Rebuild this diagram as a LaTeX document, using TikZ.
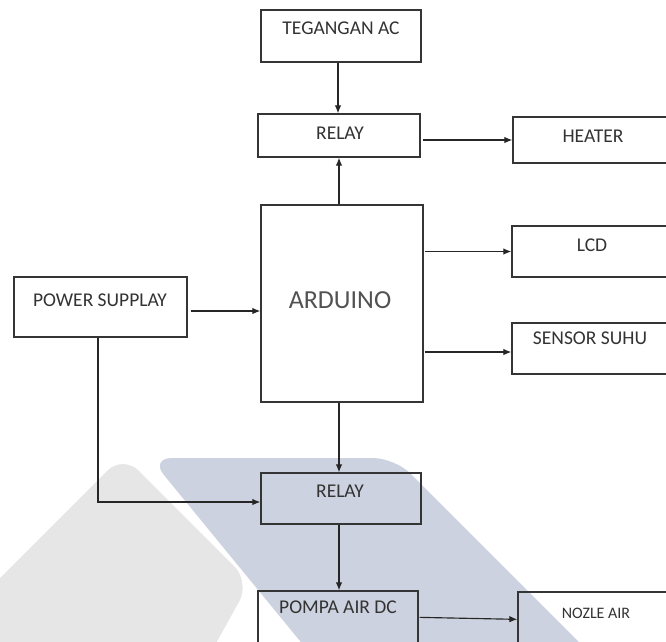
\documentclass[tikz,border=0pt]{standalone}
\usepackage{fontspec}
\setmainfont{Carlito}
\usetikzlibrary{arrows.meta,calc}
\definecolor{wmblue}{HTML}{CCD2DF}
\definecolor{wmgray}{HTML}{E6E6E6}
\definecolor{boxline}{HTML}{353535}
\definecolor{txtcol}{HTML}{333333}
\tikzset{
  box/.style={draw=boxline, line width=1.3pt, inner sep=0pt},
  txt/.style={text=txtcol, font=\fontsize{19.5}{22}\selectfont, inner sep=0pt},
  bigtxt/.style={text=txtcol!85!white, font=\fontsize{26}{30}\selectfont, inner sep=0pt},
  smalltxt/.style={text=txtcol, font=\fontsize{16}{19}\selectfont, inner sep=0pt},
  arr/.style={draw=black!85, line width=1.15pt, -{Latex[length=8pt,width=6.5pt]}},
}
\begin{document}
\begin{tikzpicture}[x=1pt,y=-1pt]
\useasboundingbox (0,0) rectangle (666,641);
\clip (0,0) rectangle (666,641);
\fill[white] (0,0) rectangle (666,641);
% watermark
\fill[wmblue, rounded corners=22pt] (150,458) -- (395,458) -- (600,663) -- (318,663) -- cycle;
\fill[wmgray, rounded corners=22pt] (123,455) -- (250,582) -- (190,690) -- (-100,690) -- (-100,678) -- cycle;
% boxes
\node[box, minimum width=160pt, minimum height=52pt] (teg) at (341,36) {};
\node[txt] (tegt) at (341,28) {TEGANGAN AC};
\node[box, minimum width=162pt, minimum height=43pt] (rel1) at (339,135.5) {};
\node[txt] (rel1t) at (340,133) {RELAY};
\node[box, minimum width=167pt, minimum height=46pt] (heat) at (596.5,140) {};
\node[txt] (heatt) at (593,136) {HEATER};
\node[box, minimum width=162pt, minimum height=197pt] (ard) at (342,303.5) {};
\node[bigtxt] (ardt) at (340,300) {ARDUINO};
\node[box, minimum width=168pt, minimum height=51pt] (lcd) at (596,251.5) {};
\node[txt] (lcdt) at (592,245) {LCD};
\node[box, minimum width=168pt, minimum height=51pt] (sen) at (596,348.5) {};
\node[txt] (sent) at (590,338) {SENSOR SUHU};
\node[box, minimum width=173pt, minimum height=60pt] (ps) at (100.5,307) {};
\node[txt] (pst) at (100,300) {POWER SUPPLAY};
\node[box, minimum width=160pt, minimum height=51pt] (rel2) at (341,498.5) {};
\node[txt] (rel2t) at (340,491) {RELAY};
\node[box, minimum width=160pt, minimum height=69pt] (pom) at (338,625.5) {};
\node[txt] (pomt) at (338,607) {POMPA AIR DC};
\node[box, minimum width=162pt, minimum height=68pt] (noz) at (599,626) {};
\node[smalltxt] (nozt) at (596,613) {NOZLE AIR};
% connectors
\draw[arr] ([xshift=-3pt]teg.south) -- ([xshift=-3pt]teg.south |- rel1.north);
\draw[arr] ([xshift=-3pt]ard.north) -- ([xshift=-3pt]ard.north |- rel1.south);
\draw[arr] ([xshift=2pt]rel1.east |- heat.west) -- (heat.west);
\draw[arr] ([xshift=1pt]ard.east |- lcd.west) -- (lcd.west);
\draw[arr] ([xshift=1pt,yshift=-3.5pt]ard.east |- sen.west) -- ([yshift=-3.5pt]sen.west);
\draw[arr] ([xshift=3pt,yshift=-4pt]ps.east) -- ([yshift=-4pt]ps.east -| ard.west);
\draw[arr] ([xshift=-2.5pt]ps.south) |- ([yshift=-3.5pt]rel2.west);
\draw[arr] ([xshift=-3pt]ard.south) -- ([xshift=-3pt]ard.south |- rel2.north);
\draw[arr] ([xshift=-2pt]rel2.south) -- ([xshift=-2pt]rel2.south |- pom.north);
\draw[arr] ($(pom.north east)+(1,27)$) -- ($(noz.north west)+(0,28)$);
\end{tikzpicture}
\end{document}
